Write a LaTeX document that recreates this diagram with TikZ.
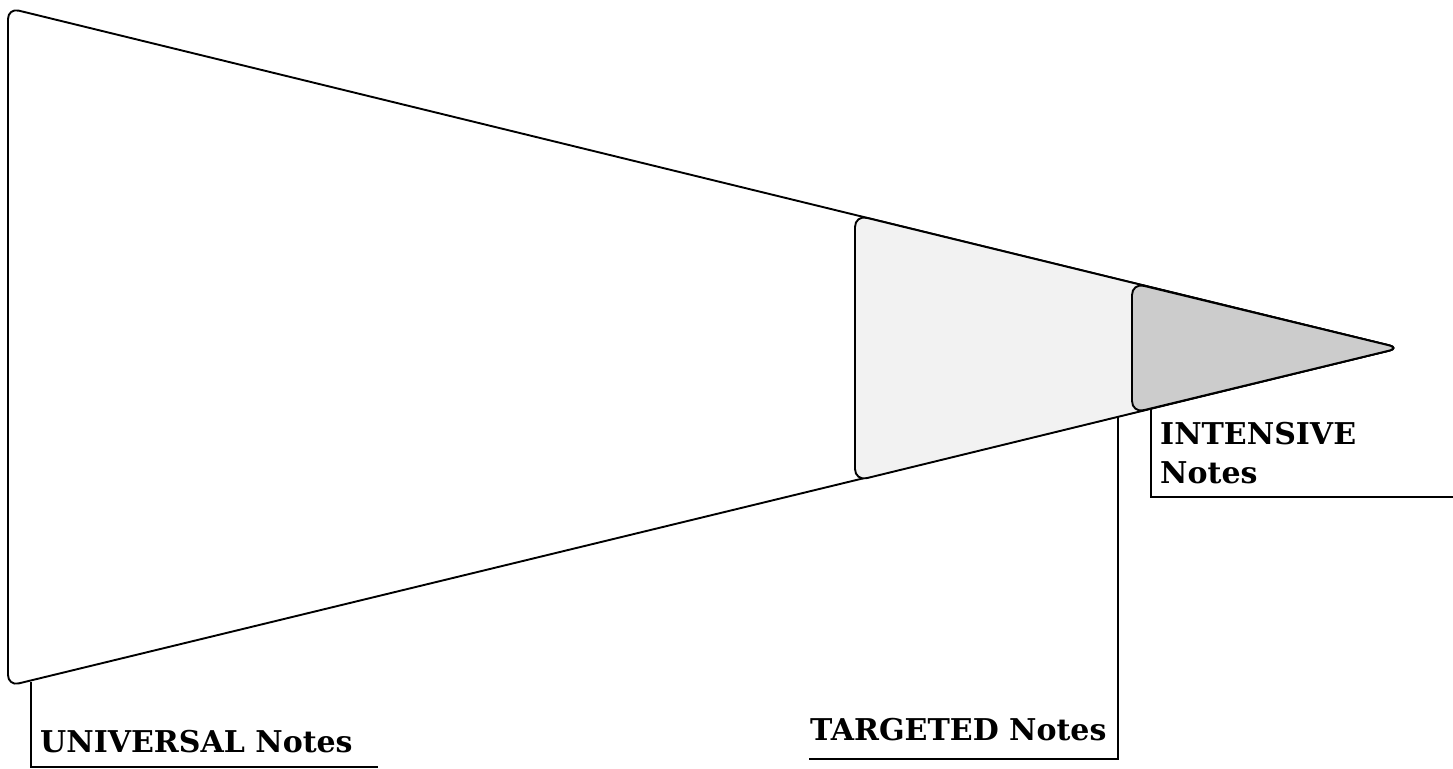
\documentclass[tikz,border=0pt]{standalone}
\usepackage{fontspec}
\setmainfont{DejaVu Serif}
\usepackage{tikz}
\usetikzlibrary{positioning}

\definecolor{lightband}{HTML}{F2F2F2}
\definecolor{darkband}{HTML}{CCCCCC}

\tikzset{
  band/.style={draw=black, line width=1.9pt, line join=round},
  callout/.style={draw=black, line width=1.9pt},
  notelabel/.style={font=\bfseries\fontsize{30}{39}\selectfont, inner sep=0pt, anchor=base west, align=left}
}

\begin{document}
\begin{tikzpicture}[x=1pt, y=-1pt]
        \useasboundingbox (0,0) rectangle (1453,768);

        % Funnel
        \draw[band, fill=white] (1400,348) [rounded corners=11pt] -- (8,8) -- (8,686) -- cycle;

        % Middle band
        \draw[band, fill=lightband] (1400,348) [rounded corners=12pt] -- (855,215) -- (855,481) -- cycle;

        % Inner band
        \draw[band, fill=darkband] (1400,348) [rounded corners=12pt] -- (1132,283) -- (1132,413) -- cycle;

        % Anchor points on the lower edge
        \coordinate (uni) at (31,682);
        \coordinate (tgt) at (1118,416);
        \coordinate (ints) at (1151,408);

        % Labels
        \node[notelabel] (unilabel) at (40,752) {UNIVERSAL Notes};
        \node[notelabel] (tgtlabel) at (810,740) {TARGETED Notes};
        \node[notelabel] (intslabel) at (1160,483) {INTENSIVE\\Notes};

        % Callouts
        \coordinate (uniend) at (378,767);
        \coordinate (tgtend) at (809,759);
        \coordinate (intsend) at (1453,497);
        \draw[callout] (uni) |- (uniend);
        \draw[callout] (tgt) |- (tgtend);
        \draw[callout] (ints) |- (intsend);
\end{tikzpicture}
\end{document}
